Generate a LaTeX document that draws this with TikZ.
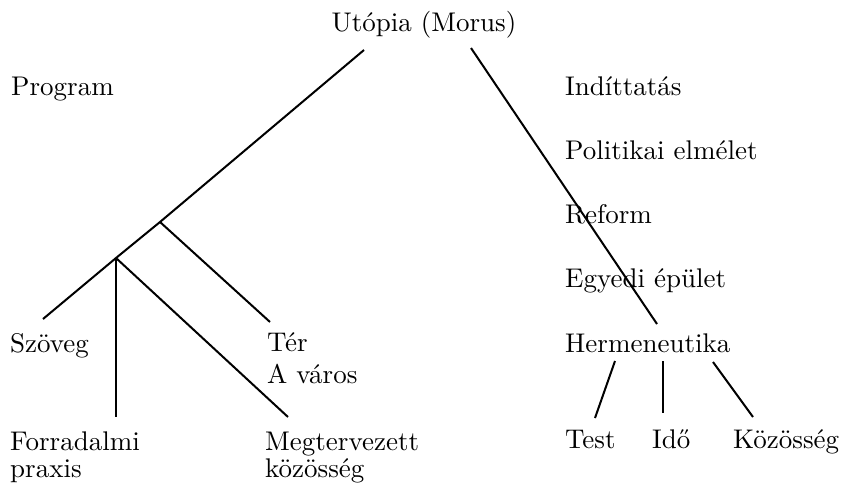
\documentclass[tikz,border=0pt]{standalone}
\usepackage{fontspec}
\setmainfont{lmroman10-regular.otf}
\usepackage{tikz}
\usetikzlibrary{positioning}

\begin{document}
\begin{tikzpicture}[x=1pt,y=-1pt,
    szo/.style={anchor=base west, inner sep=0pt, font=\fontsize{27}{30}\selectfont},
    vonal/.style={line width=2pt}]
    % keret
    \useasboundingbox (0,0) rectangle (846,483);

    % gyökér
    \node[szo, anchor=base] (utopia) at (424,31) {Utópia (Morus)};

    % bal oldal
    \node[szo] (program) at (11,95) {Program};
    \node[szo] (szoveg) at (10,352) {Szöveg};
    \node[szo] (ter) at (267,351) {Tér};
    \node[szo] (varos) at (267,383) {A város};
    \node[szo] (forr) at (10,450) {Forradalmi};
    \node[szo] (praxis) at (10,477) {praxis};
    \node[szo] (megt) at (265,450) {Megtervezett};
    \node[szo] (kozos) at (265,477) {közösség};

    % jobb oldal
    \foreach \nev/\txt/\y in {indit/Indíttatás/95, polit/Politikai elmélet/159,
        reform/Reform/223, egyedi/Egyedi épület/287, herm/Hermeneutika/352} {
        \node[szo] (\nev) at (565,\y) {\txt};
    }
    \node[szo] (test) at (565,448) {Test};
    \node[szo] (ido) at (652,448) {Idő};
    \node[szo] (kozosseg) at (733,448) {Közösség};

    % vonalvégek
    \coordinate (u1) at (364,50);
    \coordinate (u2) at (471,48);
    \coordinate (jA) at (160,222);
    \coordinate (jB) at (116,258);
    \coordinate (szV) at (43,319);
    \coordinate (terV) at (270,322);
    \coordinate (forrV) at (116,417);
    \coordinate (megtV) at (288,417);
    \coordinate (hermV) at (657,324);

    % ágak
    \draw[vonal] (u1) -- (jA) -- (jB) -- (szV);
    \draw[vonal] (jA) -- (terV);
    \draw[vonal] (jB) -- (forrV);
    \draw[vonal] (jB) -- (megtV);
    \draw[vonal] (u2) -- (hermV);

    % hermeneutika alatt
    \draw[vonal] (615,361) -- (595,418);
    \draw[vonal] (663,361) -- (663,413);
    \draw[vonal] (713,362) -- (753,417);
\end{tikzpicture}
\end{document}
